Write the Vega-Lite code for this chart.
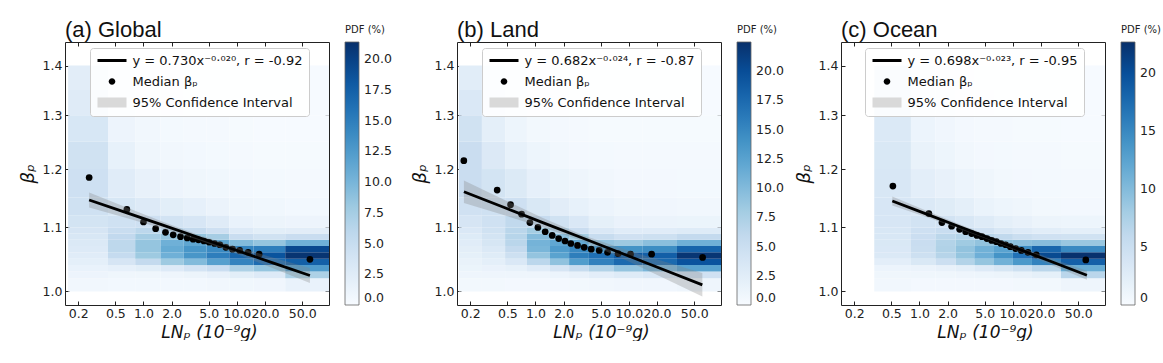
{
"$schema": "https://vega.github.io/schema/vega-lite/v6.json",
"padding": {"left": 19, "top": 19, "right": 0, "bottom": 0},
"config": {
  "font": "DejaVu Sans",
  "view": {"stroke": null},
  "axis": {"labelFont": "DejaVu Sans", "labelFontSize": 12.5, "labelColor": "#222", "tickColor": "#222", "tickSize": -4, "tickWidth": 1, "labelPadding": 7, "domainColor": "#222", "domainWidth": 1, "grid": false, "titleFont": "DejaVu Sans", "titleFontSize": 18, "titleFontWeight": "normal", "titleColor": "#111", "zindex": 1, "labelOverlap": false, "labelFlush": false},
  "legend": {"labelFont": "DejaVu Sans", "titleFont": "DejaVu Sans", "labelColor": "#222", "titleColor": "#222", "titleFontWeight": "normal", "labelLimit": 400},
  "title": {"font": "Liberation Sans", "fontSize": 22, "fontWeight": "normal", "anchor": "start", "color": "#111", "offset": -17, "frame": "group"}
},
"datasets": {
  "bands": [
    {"k":"b100","y":1.00,"y2":1.02},{"k":"b102","y":1.02,"y2":1.03},{"k":"b103","y":1.03,"y2":1.04},{"k":"b104","y":1.04,"y2":1.05},
    {"k":"b105","y":1.05,"y2":1.06},{"k":"b106","y":1.06,"y2":1.07},{"k":"b107","y":1.07,"y2":1.08},{"k":"b108","y":1.08,"y2":1.09},
    {"k":"b109","y":1.09,"y2":1.10},{"k":"b110","y":1.10,"y2":1.12},{"k":"b112","y":1.12,"y2":1.15},{"k":"b115","y":1.15,"y2":1.20},
    {"k":"b120","y":1.20,"y2":1.25},{"k":"b125","y":1.25,"y2":1.30},{"k":"b130","y":1.30,"y2":1.35},{"k":"b135","y":1.35,"y2":1.40}
  ],
  "heat": [
    {"p":"a","x":0.156,"x2":0.417,"b100":0.6,"b102":1.1,"b103":1.5,"b104":2.0,"b105":2.5,"b106":2.8,"b107":3.0,"b108":3.3,"b109":3.6,"b110":3.9,"b112":4.3,"b115":4.5,"b120":4.2,"b125":3.4,"b130":2.6,"b135":2.3},
    {"p":"a","x":0.417,"x2":0.815,"b100":0.5,"b102":0.9,"b103":1.8,"b104":3.6,"b105":5.4,"b106":5.9,"b107":5.9,"b108":5.6,"b109":5.0,"b110":4.4,"b112":3.4,"b115":2.5,"b120":1.7,"b125":1.1,"b130":0.9,"b135":0.8},
    {"p":"a","x":0.815,"x2":1.52,"b100":0.5,"b102":0.9,"b103":2.2,"b104":5.5,"b105":8.0,"b106":8.5,"b107":8.5,"b108":7.5,"b109":6.0,"b110":4.5,"b112":2.8,"b115":1.6,"b120":0.9,"b125":0.6,"b130":0.4,"b135":0.4},
    {"p":"a","x":1.52,"x2":2.70,"b100":0.5,"b102":1.0,"b103":2.8,"b104":8.0,"b105":10.5,"b106":11.0,"b107":10.5,"b108":8.5,"b109":6.0,"b110":4.0,"b112":2.2,"b115":1.1,"b120":0.6,"b125":0.4,"b130":0.3,"b135":0.3},
    {"p":"a","x":2.70,"x2":4.73,"b100":0.5,"b102":1.2,"b103":3.8,"b104":9.5,"b105":13.0,"b106":13.0,"b107":11.5,"b108":8.5,"b109":5.5,"b110":3.5,"b112":1.8,"b115":0.9,"b120":0.5,"b125":0.3,"b130":0.2,"b135":0.2},
    {"p":"a","x":4.73,"x2":8.28,"b100":0.6,"b102":1.6,"b103":4.8,"b104":12.0,"b105":15.0,"b106":14.0,"b107":11.5,"b108":7.5,"b109":4.5,"b110":2.6,"b112":1.3,"b115":0.7,"b120":0.4,"b125":0.3,"b130":0.2,"b135":0.2},
    {"p":"a","x":8.28,"x2":15.1,"b100":0.7,"b102":2.2,"b103":7.0,"b104":14.5,"b105":17.0,"b106":14.5,"b107":9.5,"b108":5.0,"b109":2.8,"b110":1.5,"b112":0.9,"b115":0.5,"b120":0.3,"b125":0.2,"b130":0.1,"b135":0.1},
    {"p":"a","x":15.1,"x2":32.9,"b100":0.8,"b102":2.8,"b103":8.5,"b104":16.5,"b105":18.5,"b106":15.0,"b107":8.5,"b108":4.2,"b109":2.2,"b110":1.2,"b112":0.7,"b115":0.4,"b120":0.2,"b125":0.1,"b130":0.1,"b135":0.1},
    {"p":"a","x":32.9,"x2":100,"b100":1.5,"b102":7.0,"b103":12.5,"b104":17.5,"b105":21.0,"b106":19.5,"b107":10.5,"b108":5.0,"b109":2.3,"b110":1.1,"b112":0.5,"b115":0.3,"b120":0.2,"b125":0.1,"b130":0.1,"b135":0.1},
    {"p":"b","x":0.151,"x2":0.267,"b100":0.6,"b102":1.0,"b103":1.3,"b104":1.6,"b105":2.0,"b106":2.3,"b107":2.6,"b108":2.9,"b109":3.3,"b110":3.8,"b112":4.5,"b115":5.2,"b120":5.2,"b125":4.4,"b130":3.3,"b135":2.5},
    {"p":"b","x":0.267,"x2":0.473,"b100":0.6,"b102":1.0,"b103":1.5,"b104":2.1,"b105":2.7,"b106":3.2,"b107":3.7,"b108":4.1,"b109":4.4,"b110":4.6,"b112":4.6,"b115":4.1,"b120":3.1,"b125":2.1,"b130":1.5,"b135":1.2},
    {"p":"b","x":0.473,"x2":0.81,"b100":0.5,"b102":1.0,"b103":1.8,"b104":3.3,"b105":4.8,"b106":5.8,"b107":6.5,"b108":6.7,"b109":6.5,"b110":6.0,"b112":4.7,"b115":3.0,"b120":1.8,"b125":1.1,"b130":0.8,"b135":0.6},
    {"p":"b","x":0.81,"x2":1.43,"b100":0.5,"b102":1.0,"b103":2.6,"b104":6.3,"b105":9.0,"b106":10.4,"b107":10.7,"b108":9.8,"b109":8.0,"b110":5.6,"b112":3.4,"b115":1.9,"b120":1.1,"b125":0.6,"b130":0.4,"b135":0.3},
    {"p":"b","x":1.43,"x2":2.29,"b100":0.5,"b102":1.2,"b103":3.8,"b104":9.2,"b105":12.4,"b106":13.2,"b107":12.0,"b108":9.4,"b109":6.7,"b110":4.4,"b112":2.4,"b115":1.3,"b120":0.7,"b125":0.5,"b130":0.3,"b135":0.2},
    {"p":"b","x":2.29,"x2":3.73,"b100":0.6,"b102":1.7,"b103":5.5,"b104":13.0,"b105":15.8,"b106":14.8,"b107":11.8,"b108":8.0,"b109":5.2,"b110":3.3,"b112":1.8,"b115":1.0,"b120":0.5,"b125":0.3,"b130":0.2,"b135":0.2},
    {"p":"b","x":3.73,"x2":6.93,"b100":0.7,"b102":2.2,"b103":7.0,"b104":15.5,"b105":17.0,"b106":13.5,"b107":9.0,"b108":5.5,"b109":3.3,"b110":2.0,"b112":1.2,"b115":0.7,"b120":0.4,"b125":0.2,"b130":0.2,"b135":0.1},
    {"p":"b","x":6.93,"x2":13.9,"b100":0.8,"b102":2.8,"b103":9.0,"b104":17.5,"b105":19.0,"b106":14.0,"b107":8.5,"b108":4.5,"b109":2.6,"b110":1.5,"b112":0.9,"b115":0.5,"b120":0.3,"b125":0.2,"b130":0.1,"b135":0.1},
    {"p":"b","x":13.9,"x2":32.7,"b100":0.8,"b102":3.3,"b103":10.5,"b104":17.5,"b105":18.5,"b106":14.5,"b107":9.5,"b108":4.8,"b109":2.6,"b110":1.4,"b112":0.8,"b115":0.5,"b120":0.3,"b125":0.2,"b130":0.1,"b135":0.1},
    {"p":"b","x":32.7,"x2":100,"b100":1.0,"b102":4.5,"b103":12.5,"b104":19.5,"b105":22.0,"b106":18.0,"b107":11.0,"b108":5.8,"b109":2.8,"b110":1.3,"b112":0.7,"b115":0.4,"b120":0.3,"b125":0.2,"b130":0.1,"b135":0.1},
    {"p":"c","x":0.328,"x2":0.81,"b100":0.7,"b102":0.9,"b103":1.2,"b104":2.3,"b105":3.2,"b106":3.3,"b107":3.4,"b108":3.5,"b109":3.6,"b110":3.7,"b112":3.7,"b115":3.6,"b120":3.4,"b125":3.2,"b130":2.9,"b135":2.7},
    {"p":"c","x":0.81,"x2":1.48,"b100":0.5,"b102":0.9,"b103":1.4,"b104":3.4,"b105":4.8,"b106":5.2,"b107":5.3,"b108":5.1,"b109":4.7,"b110":4.2,"b112":3.2,"b115":2.3,"b120":1.6,"b125":1.2,"b130":1.0,"b135":0.9},
    {"p":"c","x":1.48,"x2":2.44,"b100":0.5,"b102":0.9,"b103":1.7,"b104":5.0,"b105":6.8,"b106":7.2,"b107":7.0,"b108":6.4,"b109":5.4,"b110":4.2,"b112":2.7,"b115":1.7,"b120":1.1,"b125":0.8,"b130":0.6,"b135":0.5},
    {"p":"c","x":2.44,"x2":3.86,"b100":0.5,"b102":1.0,"b103":2.2,"b104":7.0,"b105":9.0,"b106":9.2,"b107":8.4,"b108":7.0,"b109":5.2,"b110":3.6,"b112":2.1,"b115":1.2,"b120":0.7,"b125":0.5,"b130":0.4,"b135":0.3},
    {"p":"c","x":3.86,"x2":6.28,"b100":0.5,"b102":1.1,"b103":3.0,"b104":9.0,"b105":11.2,"b106":11.0,"b107":9.2,"b108":6.6,"b109":4.4,"b110":2.8,"b112":1.5,"b115":0.9,"b120":0.5,"b125":0.3,"b130":0.3,"b135":0.2},
    {"p":"c","x":6.28,"x2":10.0,"b100":0.5,"b102":1.3,"b103":3.8,"b104":11.0,"b105":14.0,"b106":12.5,"b107":9.4,"b108":6.0,"b109":3.6,"b110":2.2,"b112":1.1,"b115":0.6,"b120":0.4,"b125":0.3,"b130":0.2,"b135":0.2},
    {"p":"c","x":10.0,"x2":16.0,"b100":0.6,"b102":1.6,"b103":4.8,"b104":13.5,"b105":17.0,"b106":14.5,"b107":9.5,"b108":5.2,"b109":3.0,"b110":1.7,"b112":0.9,"b115":0.5,"b120":0.3,"b125":0.2,"b130":0.2,"b135":0.1},
    {"p":"c","x":16.0,"x2":32.7,"b100":0.6,"b102":2.0,"b103":6.5,"b104":15.5,"b105":20.5,"b106":18.0,"b107":9.8,"b108":4.6,"b109":2.5,"b110":1.3,"b112":0.6,"b115":0.4,"b120":0.3,"b125":0.2,"b130":0.1,"b135":0.1},
    {"p":"c","x":32.7,"x2":100,"b100":1.0,"b102":6.5,"b103":11.5,"b104":18.5,"b105":22.5,"b106":15.0,"b107":8.8,"b108":4.5,"b109":2.2,"b110":1.1,"b112":0.5,"b115":0.3,"b120":0.2,"b125":0.1,"b130":0.1,"b135":0.1}
  ],
  "pts": [
    {"p":"a","x":0.262,"y":1.185},{"p":"a","x":0.664,"y":1.130},{"p":"a","x":1.0,"y":1.109},{"p":"a","x":1.35,"y":1.098},{"p":"a","x":1.72,"y":1.092},
    {"p":"a","x":2.08,"y":1.088},{"p":"a","x":2.49,"y":1.085},{"p":"a","x":2.94,"y":1.083},{"p":"a","x":3.40,"y":1.081},{"p":"a","x":3.88,"y":1.080},
    {"p":"a","x":4.43,"y":1.078},{"p":"a","x":5.05,"y":1.076},{"p":"a","x":5.76,"y":1.074},{"p":"a","x":6.57,"y":1.072},{"p":"a","x":7.62,"y":1.068},
    {"p":"a","x":8.97,"y":1.065},{"p":"a","x":10.7,"y":1.063},{"p":"a","x":13.2,"y":1.060},{"p":"a","x":17.3,"y":1.057},{"p":"a","x":60.5,"y":1.049},
    {"p":"b","x":0.171,"y":1.215},{"p":"b","x":0.389,"y":1.163},{"p":"b","x":0.541,"y":1.138},{"p":"b","x":0.710,"y":1.122},{"p":"b","x":0.871,"y":1.108},
    {"p":"b","x":1.061,"y":1.100},{"p":"b","x":1.27,"y":1.093},{"p":"b","x":1.51,"y":1.087},{"p":"b","x":1.77,"y":1.082},{"p":"b","x":2.07,"y":1.078},
    {"p":"b","x":2.39,"y":1.074},{"p":"b","x":2.82,"y":1.071},{"p":"b","x":3.32,"y":1.068},{"p":"b","x":3.95,"y":1.065},{"p":"b","x":4.81,"y":1.063},
    {"p":"b","x":5.91,"y":1.060},{"p":"b","x":7.68,"y":1.058},{"p":"b","x":10.4,"y":1.057},{"p":"b","x":17.5,"y":1.057},{"p":"b","x":61.5,"y":1.052},
    {"p":"c","x":0.519,"y":1.170},{"p":"c","x":1.26,"y":1.123},{"p":"c","x":1.74,"y":1.108},{"p":"c","x":2.21,"y":1.102},{"p":"c","x":2.69,"y":1.097},
    {"p":"c","x":3.12,"y":1.093},{"p":"c","x":3.62,"y":1.090},{"p":"c","x":4.12,"y":1.087},{"p":"c","x":4.66,"y":1.085},{"p":"c","x":5.27,"y":1.082},
    {"p":"c","x":5.92,"y":1.079},{"p":"c","x":6.65,"y":1.077},{"p":"c","x":7.45,"y":1.074},{"p":"c","x":8.36,"y":1.072},{"p":"c","x":9.38,"y":1.069},
    {"p":"c","x":10.7,"y":1.066},{"p":"c","x":12.3,"y":1.063},{"p":"c","x":14.5,"y":1.060},{"p":"c","x":17.8,"y":1.056},{"p":"c","x":60.3,"y":1.048}
  ],
  "fit": [
    {"p":"a","x":0.262,"y":1.146,"lo":1.1332,"hi":1.159},{"p":"a","x":0.631,"y":1.1254,"lo":1.1163,"hi":1.1345},{"p":"a","x":1.585,"y":1.1042,"lo":1.0984,"hi":1.1099},
    {"p":"a","x":3.981,"y":1.0833,"lo":1.0793,"hi":1.0874},{"p":"a","x":10.0,"y":1.0628,"lo":1.0574,"hi":1.0684},{"p":"a","x":25.12,"y":1.0428,"lo":1.0344,"hi":1.0512},
    {"p":"a","x":60.5,"y":1.024,"lo":1.0125,"hi":1.0355},
    {"p":"b","x":0.1714,"y":1.16,"lo":1.1406,"hi":1.1798},{"p":"b","x":0.456,"y":1.1335,"lo":1.1204,"hi":1.1468},{"p":"b","x":1.216,"y":1.1076,"lo":1.1,"hi":1.1152},
    {"p":"b","x":3.236,"y":1.0824,"lo":1.0775,"hi":1.0872},{"p":"b","x":8.61,"y":1.0577,"lo":1.0499,"hi":1.0655},{"p":"b","x":22.9,"y":1.0335,"lo":1.021,"hi":1.0462},
    {"p":"b","x":61.1,"y":1.0099,"lo":0.9924,"hi":1.0277},
    {"p":"c","x":0.512,"y":1.1443,"lo":1.1367,"hi":1.152},{"p":"c","x":1.138,"y":1.1234,"lo":1.1179,"hi":1.129},{"p":"c","x":2.529,"y":1.1029,"lo":1.099,"hi":1.1069},
    {"p":"c","x":5.623,"y":1.0828,"lo":1.0796,"hi":1.086},{"p":"c","x":12.5,"y":1.063,"lo":1.0592,"hi":1.0668},{"p":"c","x":27.8,"y":1.0436,"lo":1.0384,"hi":1.0488},
    {"p":"c","x":61.94,"y":1.0245,"lo":1.0177,"hi":1.0314}
  ],
  "leg": [
    {"p":"a","s":"y = 0.730x⁻⁰·⁰²⁰, r = -0.92"},{"p":"a","s":"Median βₚ"},{"p":"a","s":"95% Confidence Interval"},
    {"p":"b","s":"y = 0.682x⁻⁰·⁰²⁴, r = -0.87"},{"p":"b","s":"Median βₚ"},{"p":"b","s":"95% Confidence Interval"},
    {"p":"c","s":"y = 0.698x⁻⁰·⁰²³, r = -0.95"},{"p":"c","s":"Median βₚ"},{"p":"c","s":"95% Confidence Interval"}
  ]
},
"spacing": 19,
"resolve": {"scale": {"x": "independent", "y": "independent", "color": "independent", "fill": "independent", "shape": "independent"}, "legend": {"color": "independent", "fill": "independent", "shape": "independent"}, "axis": {"x": "independent", "y": "independent"}},
"hconcat": [
{
  "width": 264, "height": 263,
  "title": {"text": "(a) Global"},
  "resolve": {"axis": {"x": "independent", "y": "independent"}},
  "layer": [
    {
      "data": {"name": "heat"},
      "transform": [{"filter": "datum.p === 'a'"}, {"fold": ["b100","b102","b103","b104","b105","b106","b107","b108","b109","b110","b112","b115","b120","b125","b130","b135"], "as": ["k","v"]}, {"lookup": "k", "from": {"data": {"name": "bands"}, "key": "k", "fields": ["y","y2"]}}],
      "mark": {"type": "rect", "clip": true},
      "encoding": {
        "x": {"field": "x", "type": "quantitative", "scale": {"type": "log", "domain": [0.1445, 96.8], "nice": false}, "axis": {"values": [0.2,0.5,1,2,5,10,20,50], "format": ".1f", "title": "LNₚ (10⁻⁹g)", "titleFontStyle": "italic", "titleFontSize": 17, "titlePadding": 5, "titleX": 144, "labelPadding": 6}},
        "x2": {"field": "x2"},
        "y": {"field": "y", "type": "quantitative", "scale": {"type": "log", "domain": [0.98, 1.45], "nice": false, "zero": false}, "axis": {"values": [1.0,1.1,1.2,1.3,1.4], "format": ".1f", "title": "βₚ", "titleFontStyle": "italic", "titlePadding": 5}},
        "y2": {"field": "y2"},
        "color": {"field": "v", "type": "quantitative", "scale": {"domain": [0,2.675,5.35,8.025,10.7,13.375,16.05,18.725,21.4], "range": ["#f7fbff","#deebf7","#c6dbef","#9ecae1","#6baed6","#4292c6","#2171b5","#08519c","#08306b"], "interpolate": "rgb", "clamp": true}, "legend": {"type": "gradient", "orient": "none", "legendX": 280, "legendY": -17, "direction": "vertical", "title": "PDF (%)", "titleFontSize": 10, "titlePadding": 7, "gradientLength": 263, "gradientThickness": 14, "gradientStrokeColor": "#666", "gradientStrokeWidth": 0.8, "values": [0,2.5,5,7.5,10,12.5,15,17.5,20], "format": ".1f", "labelFontSize": 12.5, "labelOffset": 5, "labelBaseline": "middle"}}
      }
    },
    {
      "data": {"name": "pts"},
      "transform": [{"filter": "datum.p === 'a'"}],
      "mark": {"type": "circle", "size": 45, "color": "black", "opacity": 1},
      "encoding": {
        "x": {"field": "x", "type": "quantitative", "scale": {"type": "log", "domain": [0.1445, 96.8], "nice": false}, "axis": null},
        "y": {"field": "y", "type": "quantitative", "scale": {"type": "log", "domain": [0.98, 1.45], "nice": false, "zero": false}, "axis": null}
      }
    },
    {
      "data": {"name": "fit"},
      "transform": [{"filter": "datum.p === 'a'"}],
      "mark": {"type": "area", "color": "gray", "opacity": 0.3},
      "encoding": {
        "x": {"field": "x", "type": "quantitative", "scale": {"type": "log", "domain": [0.1445, 96.8], "nice": false}, "axis": null},
        "y": {"field": "lo", "type": "quantitative", "scale": {"type": "log", "domain": [0.98, 1.45], "nice": false, "zero": false}, "axis": null},
        "y2": {"field": "hi"}
      }
    },
    {
      "data": {"name": "fit"},
      "transform": [{"filter": "datum.p === 'a'"}],
      "mark": {"type": "line", "color": "black", "strokeWidth": 2.8},
      "encoding": {
        "x": {"field": "x", "type": "quantitative", "scale": {"type": "log", "domain": [0.1445, 96.8], "nice": false}, "axis": {"orient": "top", "labels": false, "title": null, "values": [0.2,0.5,1,2,5,10,20,50]}},
        "y": {"field": "y", "type": "quantitative", "scale": {"type": "log", "domain": [0.98, 1.45], "nice": false, "zero": false}, "axis": {"orient": "right", "labels": false, "title": null, "values": [1.0,1.1,1.2,1.3,1.4]}}
      }
    },
    {
      "data": {"name": "leg"},
      "transform": [{"filter": "datum.p === 'a'"}],
      "mark": {"type": "point", "filled": true, "opacity": 0},
      "encoding": {
        "fill": {"field": "s", "type": "nominal", "scale": {"domain": ["y = 0.730x⁻⁰·⁰²⁰, r = -0.92","Median βₚ","95% Confidence Interval"], "range": ["black","black","#d9d9d9"]}, "legend": {"orient": "none", "legendX": 25, "legendY": 6, "title": null, "labelFontSize": 13, "labelColor": "#111", "symbolOpacity": 1, "symbolSize": 100, "symbolOffset": 9.5, "symbolStrokeWidth": 0, "fillColor": "rgba(255,255,255,0.85)", "strokeColor": "#cccccc", "cornerRadius": 3, "padding": 6, "rowPadding": 7, "labelOffset": 14}},
        "shape": {"field": "s", "type": "nominal", "scale": {"domain": ["y = 0.730x⁻⁰·⁰²⁰, r = -0.92","Median βₚ","95% Confidence Interval"], "range": ["M-2.9,-0.3L2.9,-0.3L2.9,0.3L-2.9,0.3Z","M0,-0.66A0.66,0.66,0,1,1,0,0.66A0.66,0.66,0,1,1,0,-0.66Z","M-2.9,-1L2.9,-1L2.9,1L-2.9,1Z"]}, "legend": {"orient": "none", "legendX": 25, "legendY": 6, "title": null, "labelFontSize": 13, "labelColor": "#111", "symbolOpacity": 1, "symbolSize": 100, "symbolOffset": 9.5, "symbolStrokeWidth": 0, "fillColor": "rgba(255,255,255,0.85)", "strokeColor": "#cccccc", "cornerRadius": 3, "padding": 6, "rowPadding": 7, "labelOffset": 14}}
      }
    }
  ]
},
{
  "spacing": 11,
  "resolve": {"scale": {"x": "independent", "y": "independent", "color": "independent", "fill": "independent", "shape": "independent"}, "legend": {"color": "independent", "fill": "independent", "shape": "independent"}, "axis": {"x": "independent", "y": "independent"}},
  "hconcat": [
  {
    "width": 264, "height": 263,
    "title": {"text": "(b) Land"},
    "resolve": {"axis": {"x": "independent", "y": "independent"}},
    "layer": [
      {
        "data": {"name": "heat"},
        "transform": [{"filter": "datum.p === 'b'"}, {"fold": ["b100","b102","b103","b104","b105","b106","b107","b108","b109","b110","b112","b115","b120","b125","b130","b135"], "as": ["k","v"]}, {"lookup": "k", "from": {"data": {"name": "bands"}, "key": "k", "fields": ["y","y2"]}}],
        "mark": {"type": "rect", "clip": true},
        "encoding": {
          "x": {"field": "x", "type": "quantitative", "scale": {"type": "log", "domain": [0.1445, 96.8], "nice": false}, "axis": {"values": [0.2,0.5,1,2,5,10,20,50], "format": ".1f", "title": "LNₚ (10⁻⁹g)", "titleFontStyle": "italic", "titleFontSize": 17, "titlePadding": 5, "titleX": 144, "labelPadding": 6}},
          "x2": {"field": "x2"},
          "y": {"field": "y", "type": "quantitative", "scale": {"type": "log", "domain": [0.98, 1.45], "nice": false, "zero": false}, "axis": {"values": [1.0,1.1,1.2,1.3,1.4], "format": ".1f", "title": "βₚ", "titleFontStyle": "italic", "titlePadding": 5}},
          "y2": {"field": "y2"},
          "color": {"field": "v", "type": "quantitative", "scale": {"domain": [0,2.8125,5.625,8.4375,11.25,14.0625,16.875,19.6875,22.5], "range": ["#f7fbff","#deebf7","#c6dbef","#9ecae1","#6baed6","#4292c6","#2171b5","#08519c","#08306b"], "interpolate": "rgb", "clamp": true}, "legend": {"type": "gradient", "orient": "none", "legendX": 280, "legendY": -17, "direction": "vertical", "title": "PDF (%)", "titleFontSize": 10, "titlePadding": 7, "gradientLength": 263, "gradientThickness": 14, "gradientStrokeColor": "#666", "gradientStrokeWidth": 0.8, "values": [0,2.5,5,7.5,10,12.5,15,17.5,20], "format": ".1f", "labelFontSize": 12.5, "labelOffset": 5, "labelBaseline": "middle"}}
        }
      },
      {
        "data": {"name": "pts"},
        "transform": [{"filter": "datum.p === 'b'"}],
        "mark": {"type": "circle", "size": 45, "color": "black", "opacity": 1},
        "encoding": {
          "x": {"field": "x", "type": "quantitative", "scale": {"type": "log", "domain": [0.1445, 96.8], "nice": false}, "axis": null},
          "y": {"field": "y", "type": "quantitative", "scale": {"type": "log", "domain": [0.98, 1.45], "nice": false, "zero": false}, "axis": null}
        }
      },
      {
        "data": {"name": "fit"},
        "transform": [{"filter": "datum.p === 'b'"}],
        "mark": {"type": "area", "color": "gray", "opacity": 0.3},
        "encoding": {
          "x": {"field": "x", "type": "quantitative", "scale": {"type": "log", "domain": [0.1445, 96.8], "nice": false}, "axis": null},
          "y": {"field": "lo", "type": "quantitative", "scale": {"type": "log", "domain": [0.98, 1.45], "nice": false, "zero": false}, "axis": null},
          "y2": {"field": "hi"}
        }
      },
      {
        "data": {"name": "fit"},
        "transform": [{"filter": "datum.p === 'b'"}],
        "mark": {"type": "line", "color": "black", "strokeWidth": 2.8},
        "encoding": {
          "x": {"field": "x", "type": "quantitative", "scale": {"type": "log", "domain": [0.1445, 96.8], "nice": false}, "axis": {"orient": "top", "labels": false, "title": null, "values": [0.2,0.5,1,2,5,10,20,50]}},
          "y": {"field": "y", "type": "quantitative", "scale": {"type": "log", "domain": [0.98, 1.45], "nice": false, "zero": false}, "axis": {"orient": "right", "labels": false, "title": null, "values": [1.0,1.1,1.2,1.3,1.4]}}
        }
      },
      {
        "data": {"name": "leg"},
        "transform": [{"filter": "datum.p === 'b'"}],
        "mark": {"type": "point", "filled": true, "opacity": 0},
        "encoding": {
          "fill": {"field": "s", "type": "nominal", "scale": {"domain": ["y = 0.682x⁻⁰·⁰²⁴, r = -0.87","Median βₚ","95% Confidence Interval"], "range": ["black","black","#d9d9d9"]}, "legend": {"orient": "none", "legendX": 25, "legendY": 6, "title": null, "labelFontSize": 13, "labelColor": "#111", "symbolOpacity": 1, "symbolSize": 100, "symbolOffset": 9.5, "symbolStrokeWidth": 0, "fillColor": "rgba(255,255,255,0.85)", "strokeColor": "#cccccc", "cornerRadius": 3, "padding": 6, "rowPadding": 7, "labelOffset": 14}},
          "shape": {"field": "s", "type": "nominal", "scale": {"domain": ["y = 0.682x⁻⁰·⁰²⁴, r = -0.87","Median βₚ","95% Confidence Interval"], "range": ["M-2.9,-0.3L2.9,-0.3L2.9,0.3L-2.9,0.3Z","M0,-0.66A0.66,0.66,0,1,1,0,0.66A0.66,0.66,0,1,1,0,-0.66Z","M-2.9,-1L2.9,-1L2.9,1L-2.9,1Z"]}, "legend": {"orient": "none", "legendX": 25, "legendY": 6, "title": null, "labelFontSize": 13, "labelColor": "#111", "symbolOpacity": 1, "symbolSize": 100, "symbolOffset": 9.5, "symbolStrokeWidth": 0, "fillColor": "rgba(255,255,255,0.85)", "strokeColor": "#cccccc", "cornerRadius": 3, "padding": 6, "rowPadding": 7, "labelOffset": 14}}
        }
      }
    ]
  },
  {
    "width": 264, "height": 263,
    "title": {"text": "(c) Ocean"},
    "resolve": {"axis": {"x": "independent", "y": "independent"}},
    "layer": [
      {
        "data": {"name": "heat"},
        "transform": [{"filter": "datum.p === 'c'"}, {"fold": ["b100","b102","b103","b104","b105","b106","b107","b108","b109","b110","b112","b115","b120","b125","b130","b135"], "as": ["k","v"]}, {"lookup": "k", "from": {"data": {"name": "bands"}, "key": "k", "fields": ["y","y2"]}}],
        "mark": {"type": "rect", "clip": true},
        "encoding": {
          "x": {"field": "x", "type": "quantitative", "scale": {"type": "log", "domain": [0.1445, 96.8], "nice": false}, "axis": {"values": [0.2,0.5,1,2,5,10,20,50], "format": ".1f", "title": "LNₚ (10⁻⁹g)", "titleFontStyle": "italic", "titleFontSize": 17, "titlePadding": 5, "titleX": 144, "labelPadding": 6}},
          "x2": {"field": "x2"},
          "y": {"field": "y", "type": "quantitative", "scale": {"type": "log", "domain": [0.98, 1.45], "nice": false, "zero": false}, "axis": {"values": [1.0,1.1,1.2,1.3,1.4], "format": ".1f", "title": "βₚ", "titleFontStyle": "italic", "titlePadding": 5}},
          "y2": {"field": "y2"},
          "color": {"field": "v", "type": "quantitative", "scale": {"domain": [0,2.8375,5.675,8.5125,11.35,14.1875,17.025,19.8625,22.7], "range": ["#f7fbff","#deebf7","#c6dbef","#9ecae1","#6baed6","#4292c6","#2171b5","#08519c","#08306b"], "interpolate": "rgb", "clamp": true}, "legend": {"type": "gradient", "orient": "none", "legendX": 280, "legendY": -17, "direction": "vertical", "title": "PDF (%)", "titleFontSize": 10, "titlePadding": 7, "gradientLength": 263, "gradientThickness": 14, "gradientStrokeColor": "#666", "gradientStrokeWidth": 0.8, "values": [0,5,10,15,20], "format": "d", "labelFontSize": 12.5, "labelOffset": 5, "labelBaseline": "middle"}}
        }
      },
      {
        "data": {"name": "pts"},
        "transform": [{"filter": "datum.p === 'c'"}],
        "mark": {"type": "circle", "size": 45, "color": "black", "opacity": 1},
        "encoding": {
          "x": {"field": "x", "type": "quantitative", "scale": {"type": "log", "domain": [0.1445, 96.8], "nice": false}, "axis": null},
          "y": {"field": "y", "type": "quantitative", "scale": {"type": "log", "domain": [0.98, 1.45], "nice": false, "zero": false}, "axis": null}
        }
      },
      {
        "data": {"name": "fit"},
        "transform": [{"filter": "datum.p === 'c'"}],
        "mark": {"type": "area", "color": "gray", "opacity": 0.3},
        "encoding": {
          "x": {"field": "x", "type": "quantitative", "scale": {"type": "log", "domain": [0.1445, 96.8], "nice": false}, "axis": null},
          "y": {"field": "lo", "type": "quantitative", "scale": {"type": "log", "domain": [0.98, 1.45], "nice": false, "zero": false}, "axis": null},
          "y2": {"field": "hi"}
        }
      },
      {
        "data": {"name": "fit"},
        "transform": [{"filter": "datum.p === 'c'"}],
        "mark": {"type": "line", "color": "black", "strokeWidth": 2.8},
        "encoding": {
          "x": {"field": "x", "type": "quantitative", "scale": {"type": "log", "domain": [0.1445, 96.8], "nice": false}, "axis": {"orient": "top", "labels": false, "title": null, "values": [0.2,0.5,1,2,5,10,20,50]}},
          "y": {"field": "y", "type": "quantitative", "scale": {"type": "log", "domain": [0.98, 1.45], "nice": false, "zero": false}, "axis": {"orient": "right", "labels": false, "title": null, "values": [1.0,1.1,1.2,1.3,1.4]}}
        }
      },
      {
        "data": {"name": "leg"},
        "transform": [{"filter": "datum.p === 'c'"}],
        "mark": {"type": "point", "filled": true, "opacity": 0},
        "encoding": {
          "fill": {"field": "s", "type": "nominal", "scale": {"domain": ["y = 0.698x⁻⁰·⁰²³, r = -0.95","Median βₚ","95% Confidence Interval"], "range": ["black","black","#d9d9d9"]}, "legend": {"orient": "none", "legendX": 24, "legendY": 6, "title": null, "labelFontSize": 13, "labelColor": "#111", "symbolOpacity": 1, "symbolSize": 100, "symbolOffset": 9.5, "symbolStrokeWidth": 0, "fillColor": "rgba(255,255,255,0.85)", "strokeColor": "#cccccc", "cornerRadius": 3, "padding": 6, "rowPadding": 7, "labelOffset": 14}},
          "shape": {"field": "s", "type": "nominal", "scale": {"domain": ["y = 0.698x⁻⁰·⁰²³, r = -0.95","Median βₚ","95% Confidence Interval"], "range": ["M-2.9,-0.3L2.9,-0.3L2.9,0.3L-2.9,0.3Z","M0,-0.66A0.66,0.66,0,1,1,0,0.66A0.66,0.66,0,1,1,0,-0.66Z","M-2.9,-1L2.9,-1L2.9,1L-2.9,1Z"]}, "legend": {"orient": "none", "legendX": 24, "legendY": 6, "title": null, "labelFontSize": 13, "labelColor": "#111", "symbolOpacity": 1, "symbolSize": 100, "symbolOffset": 9.5, "symbolStrokeWidth": 0, "fillColor": "rgba(255,255,255,0.85)", "strokeColor": "#cccccc", "cornerRadius": 3, "padding": 6, "rowPadding": 7, "labelOffset": 14}}
        }
      }
    ]
  }
  ]
}
]
}
